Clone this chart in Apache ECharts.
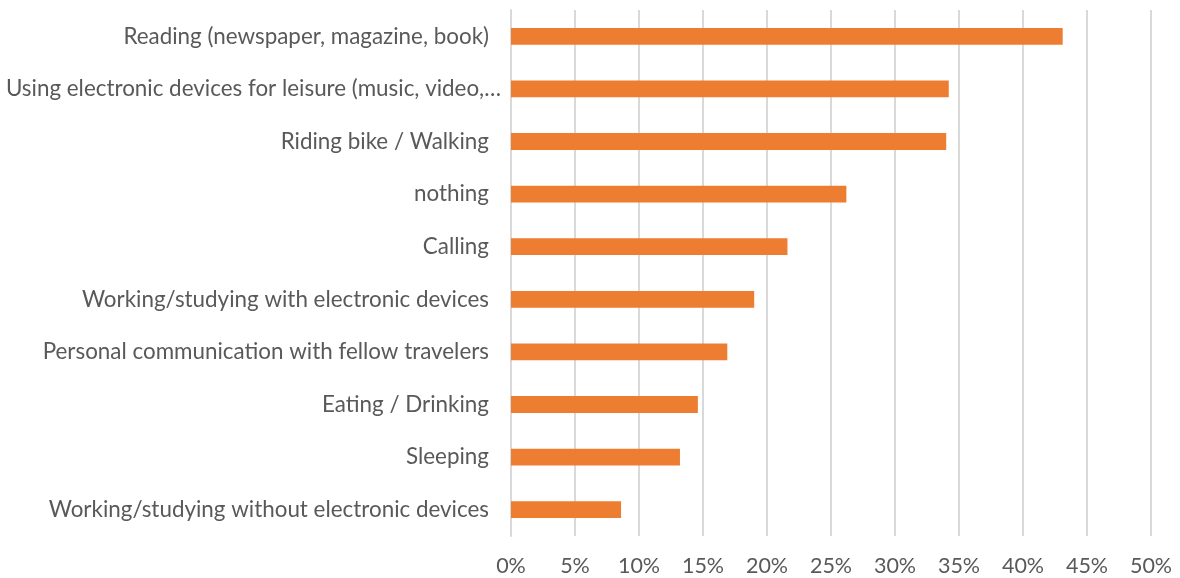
<!DOCTYPE html>
<html>
<head>
<meta charset="utf-8">
<script src="https://cdn.jsdelivr.net/npm/echarts@6/dist/echarts.min.js"></script>
<style>
  html, body { margin: 0; padding: 0; background: #ffffff; }
  #chart { width: 1180px; height: 578px; }
</style>
</head>
<body>
<div id="chart"></div>
<script>
// Activities while travelling, share of respondents (%)
const activities = [
  "Reading (newspaper, magazine, book)",
  "Using electronic devices for leisure (music, video,…",
  "Riding bike / Walking",
  "nothing",
  "Calling",
  "Working/studying with electronic devices",
  "Personal communication with fellow travelers",
  "Eating / Drinking",
  "Sleeping",
  "Working/studying without electronic devices"
];
const shares = [43.1, 34.2, 34.0, 26.2, 21.6, 19.0, 16.9, 14.6, 13.2, 8.6];
const tickStep = 5;
const tickMax = 50;

const FONT = "Lato, 'Open Sans', sans-serif";
const TEXT = "#595959";
const GRID = "#d9d9d9";

// truncated labels sit a little closer to the axis than the full ones
const categoryItems = activities.map(name => (
  name.endsWith('…')
    ? { value: name, textStyle: { padding: [0, 0, 0, 0] } }
    : name
));

const chart = echarts.init(document.getElementById('chart'), null, { renderer: 'canvas' });
chart.setOption({
  animation: false,
  grid: { left: 511, right: 29, top: 10, bottom: 42 },
  xAxis: {
    type: 'value',
    min: 0,
    max: tickMax,
    interval: tickStep,
    axisLine: { show: false },
    axisTick: { show: false },
    splitLine: { show: true, lineStyle: { color: GRID, width: 2 } },
    axisLabel: {
      formatter: v => v + '%',
      color: TEXT,
      fontFamily: FONT,
      fontSize: 21.5,
      margin: 19
    }
  },
  yAxis: {
    type: 'category',
    data: categoryItems,
    inverse: true,
    axisLine: { show: true, lineStyle: { color: GRID, width: 2 } },
    axisTick: { show: false },
    axisLabel: {
      color: TEXT,
      fontFamily: FONT,
      fontSize: 22.4,
      margin: 10,
      padding: [0, 12, 0, 0]
    }
  },
  series: [{
    type: 'bar',
    data: shares,
    barWidth: '32%',
    itemStyle: { color: '#ED7D31' }
  }]
});
</script>
</body>
</html>
